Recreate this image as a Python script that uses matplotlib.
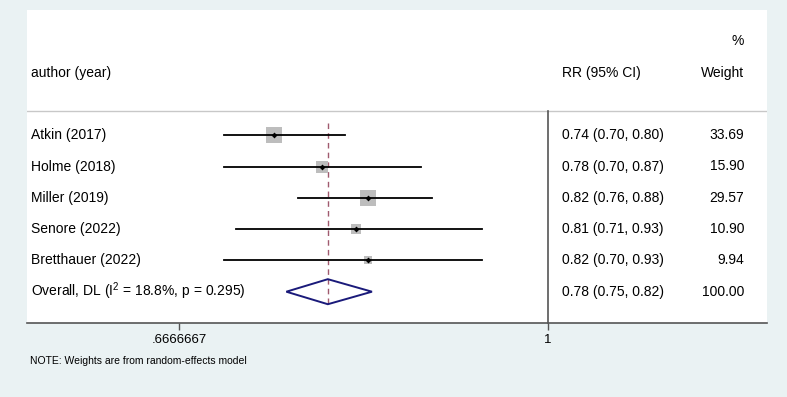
import matplotlib.pyplot as plt
import matplotlib.transforms as mtransforms

plt.rcParams['font.family'] = ['Liberation Sans', 'DejaVu Sans']
plt.rcParams['mathtext.fontset'] = 'custom'
plt.rcParams['mathtext.rm'] = 'Liberation Sans'
plt.rcParams['mathtext.default'] = 'regular'

# study data
studies = ["Atkin (2017)", "Holme (2018)", "Miller (2019)", "Senore (2022)", "Bretthauer (2022)"]
rr = [0.74, 0.78, 0.82, 0.81, 0.82]
lower = [0.70, 0.70, 0.76, 0.71, 0.70]
upper = [0.80, 0.87, 0.88, 0.93, 0.93]
weights = [33.69, 15.90, 29.57, 10.90, 9.94]
rr_text = ["0.74 (0.70, 0.80)", "0.78 (0.70, 0.87)", "0.82 (0.76, 0.88)",
           "0.81 (0.71, 0.93)", "0.82 (0.70, 0.93)"]

overall_label = "Overall, DL (I$^{2}$ = 18.8%, p = 0.295)"
overall_est = 0.785
overall_lo = 0.75
overall_hi = 0.824
overall_text = "0.78 (0.75, 0.82)"
overall_weight = "100.00"

xticks = [2 / 3, 1]
xticklabels = [".6666667", "1"]

bg = "#EAF2F3"
fig = plt.figure(figsize=(7.87, 3.97), dpi=100, facecolor=bg)
ax = fig.add_axes([27 / 787, 1 - 323 / 397, 740 / 787, 313 / 397])
ax.set_facecolor("white")
ax.set_xscale("log")
ax.set_xlim(0.564, 1.272)
ax.set_ylim(6, -4)

for s in ["top", "left", "right"]:
    ax.spines[s].set_visible(False)
ax.spines["bottom"].set_color("#555555")
ax.spines["bottom"].set_linewidth(1.2)
ax.set_yticks([])
ax.set_xticks(xticks)
ax.set_xticklabels(xticklabels, fontsize=9.5)
ax.xaxis.set_minor_locator(plt.NullLocator())
ax.tick_params(axis="x", length=5, width=1, color="#555555", pad=3)

# header
trans = mtransforms.blended_transform_factory(ax.transAxes, ax.transData)
fs = 10
ax.text(0.0055, -2, "author (year)", transform=trans, fontsize=fs, va="center", ha="left")
ax.text(0.723, -2, "RR (95% CI)", transform=trans, fontsize=fs, va="center", ha="left")
ax.text(0.969, -2, "Weight", transform=trans, fontsize=fs, va="center", ha="right")
ax.text(0.969, -3, "%", transform=trans, fontsize=fs, va="center", ha="right")

# separators
ax.axhline(-0.77, color="#C8C8C8", lw=1)
ax.plot([1, 1], [-0.77, 6], color="#555555", lw=1.2, clip_on=False)

# line at overall estimate
ax.plot([overall_est, overall_est], [-0.4, 5.4], color="#A05A6E", lw=1, ls=(0, (4, 3)))

for i, name in enumerate(studies):
    ax.plot([lower[i], upper[i]], [i, i], color="black", lw=1.3, zorder=3)
    ax.scatter(rr[i], i, marker="s", s=weights[i] * 4.2, color="#BDBDBD", zorder=2, linewidths=0)
    ax.scatter(rr[i], i, marker="D", s=9, color="black", zorder=4, linewidths=0)
    ax.text(0.0055, i, name, transform=trans, fontsize=fs, va="center", ha="left")
    ax.text(0.723, i, rr_text[i], transform=trans, fontsize=fs, va="center", ha="left")
    ax.text(0.969, i, f"{weights[i]:.2f}", transform=trans, fontsize=fs, va="center", ha="right")

# overall diamond
yo = len(studies)
ax.fill([overall_lo, overall_est, overall_hi, overall_est],
        [yo, yo - 0.4, yo, yo + 0.4], facecolor="none", edgecolor="#1A1A7A", lw=1.4, zorder=3)
ax.text(0.0055, yo, overall_label, transform=trans, fontsize=fs, va="center", ha="left")
ax.text(0.723, yo, overall_text, transform=trans, fontsize=fs, va="center", ha="left")
ax.text(0.969, yo, overall_weight, transform=trans, fontsize=fs, va="center", ha="right")

fig.text(30 / 787, 1 - 361 / 397, "NOTE: Weights are from random-effects model", fontsize=7.5, va="center", ha="left")

fig.savefig("out.png", dpi=100, facecolor=bg)
